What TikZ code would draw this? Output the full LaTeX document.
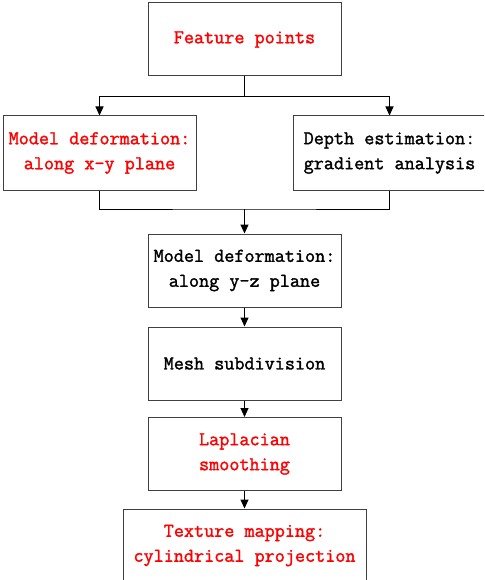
\documentclass[tikz,border=0pt]{standalone}
\usepackage{fontspec}
\setmainfont{Latin Modern Mono}[FakeBold=1.6]
\usetikzlibrary{arrows.meta}
\definecolor{boxline}{HTML}{404040}
\tikzset{
  box/.style={draw=boxline, line width=1pt, minimum height=73pt, align=center,
              inner sep=0pt, font=\bfseries\fontsize{19.6}{25}\selectfont},
  wbox/.style={box, minimum width=193pt},
  red/.style={text=red},
  conn/.style={draw=black, line width=1pt},
  arr/.style={conn, -{Triangle[length=9pt,width=8pt]}}
}
\begin{document}
\begin{tikzpicture}[x=1pt,y=-1pt]
\useasboundingbox (0,0) rectangle (484,580);
\clip (0,0) rectangle (484,580);
\node[wbox, red] (fp) at (244.5,39.5) {Feature points};
\node[wbox, red, minimum height=74pt] (md1) at (99.5,153) {Model deformation:\\along x-y plane};
\node[wbox, minimum height=74pt] (de) at (389.5,153) {Depth estimation:\\gradient analysis};
\node[wbox] (md2) at (244.5,270.5) {Model deformation:\\along y-z plane};
\node[wbox] (ms) at (244.5,363.5) {Mesh subdivision};
\node[wbox, red] (ls) at (244.5,454) {Laplacian\\smoothing};
\node[box, red, minimum width=243pt] (tm) at (244.5,545.5) {Texture mapping:\\cylindrical projection};
\coordinate (j1) at (244.5,97);
\coordinate (j2) at (244.5,209);
\draw[conn] (fp.south) -- (j1);
\draw[arr] (j1) -| (md1.north);
\draw[arr] (j1) -| (de.north);
\draw[conn] (md1.south) |- (j2) -| (de.south);
\draw[arr] (j2) -- (md2.north);
\draw[arr] (md2.south) -- (ms.north);
\draw[arr] (ms.south) -- (ls.north);
\draw[arr] (ls.south) -- (tm.north);
\end{tikzpicture}
\end{document}
